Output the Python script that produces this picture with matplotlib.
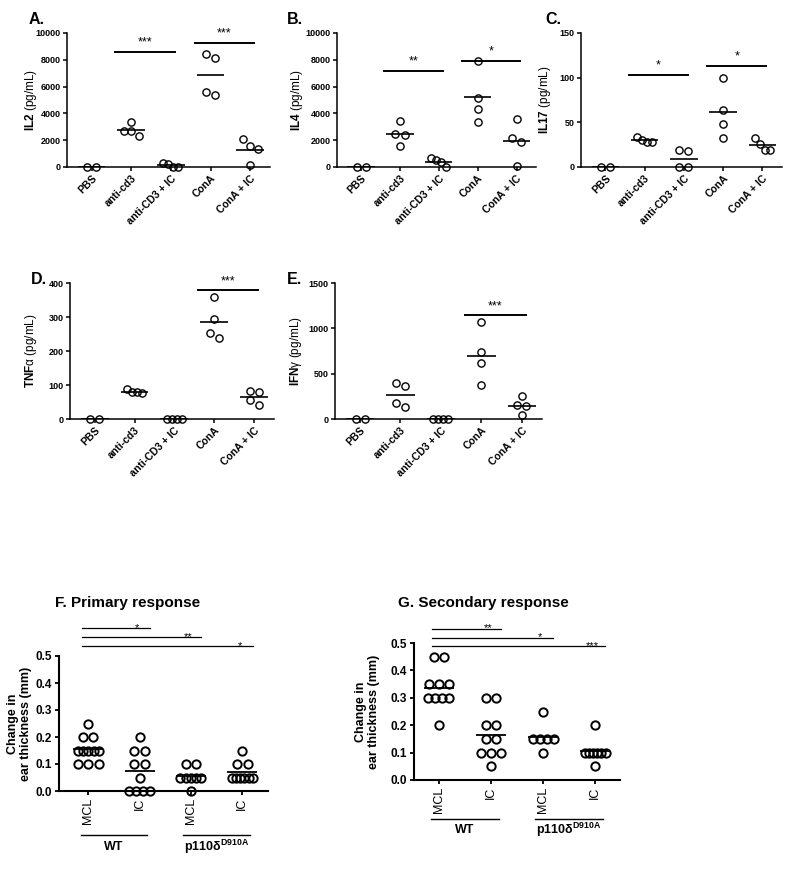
import numpy as np
import matplotlib
matplotlib.use('Agg')
import matplotlib.pyplot as plt

plt.rcParams['font.family'] = ['Liberation Sans', 'DejaVu Sans']
plt.rcParams['mathtext.fontset'] = 'custom'
plt.rcParams['mathtext.rm'] = 'Liberation Sans'
plt.rcParams['mathtext.it'] = 'Liberation Sans:italic'
plt.rcParams['mathtext.bf'] = 'Liberation Sans:bold'

W, H = 800, 873

# Cytokine panels (A-E)
groups = ['PBS', 'anti-cd3', 'anti-CD3 + IC', 'ConA', 'ConA + IC']

il2 = [[0, 0], [2700, 3350, 2650, 2300], [250, 0, 300, 0],
       [8400, 8150, 5350, 5600], [1600, 2100, 1350, 150]]
il4 = [[0, 0], [2500, 3400, 2400, 1600], [500, 0, 650, 400],
       [7900, 5150, 4350, 3350], [3600, 2200, 1900, 100]]
il17 = [[0, 0], [30, 34, 28, 28], [19, 18, 0, 0],
        [100, 64, 48, 33], [26, 33, 19, 19]]
tnfa = [[0, 0], [78, 78, 87, 77], [0, 0, 0, 0],
        [358, 295, 238, 252], [82, 78, 40, 57]]
ifng = [[0, 0], [397, 368, 132, 180], [0, 0, 0, 0],
        [1070, 740, 620, 370], [250, 150, 140, 45]]

# significance bars: (group i, group j, height, stars)
il2_sig = [(1, 2, 8560, '***'), (3, 4, 9260, '***')]
il4_sig = [(1, 2, 7190, '**'), (3, 4, 7890, '*')]
il17_sig = [(1, 2, 103, '*'), (3, 4, 113, '*')]
tnfa_sig = [(3, 4, 378, '***')]
ifng_sig = [(3, 4, 1143, '***')]

# Ear thickness panels (F, G)
ear_labels = ['MCL', 'IC', 'MCL', 'IC']
primary = [[0.25, 0.2, 0.2, 0.15, 0.15, 0.15, 0.15, 0.15, 0.1, 0.1, 0.1],
           [0.2, 0.15, 0.15, 0.1, 0.1, 0.05, 0, 0, 0, 0],
           [0.1, 0.1, 0.05, 0.05, 0.05, 0.05, 0.05, 0],
           [0.15, 0.1, 0.1, 0.05, 0.05, 0.05, 0.05, 0.05, 0.05]]
secondary = [[0.45, 0.45, 0.35, 0.35, 0.35, 0.3, 0.3, 0.3, 0.3, 0.2],
             [0.3, 0.3, 0.2, 0.2, 0.15, 0.15, 0.1, 0.1, 0.1, 0.05],
             [0.25, 0.15, 0.15, 0.15, 0.15, 0.1],
             [0.2, 0.1, 0.1, 0.1, 0.1, 0.1, 0.1, 0.05]]
primary_sig = [(0, 1, 0.602, '*'), (0, 2, 0.569, '**'), (0, 3, 0.537, '*')]
secondary_sig = [(0, 1, 0.552, '**'), (0, 2, 0.519, '*'), (0, 3, 0.488, '***')]
strains = ['WT', r'p110δ$^{\mathbf{D910A}}$']

fig = plt.figure(figsize=(W / 100, H / 100), dpi=100)


def row_offsets(vals, pxu_x, pxu_y, diam, span):
    """Spread points that would overlap into a horizontal row."""
    vals = np.asarray(vals, float)
    order = np.argsort(-vals, kind='stable')
    rows = []
    for idx in order:
        if rows and abs(vals[rows[-1][-1]] - vals[idx]) * pxu_y < diam:
            rows[-1].append(idx)
        else:
            rows.append([idx])
    offs = np.zeros(len(vals))
    for r in rows:
        k = len(r)
        if k == 1:
            continue
        step = min(1.3 * diam, span / (k - 1))
        for n, idx in enumerate(r):
            offs[idx] = (n - (k - 1) / 2) * step / pxu_x
    return offs


def add_axes_px(left, right, top, bottom):
    return fig.add_axes([left / W, 1 - bottom / H, (right - left) / W, (bottom - top) / H])


def cyto_panel(box, letter, letter_xy, data, sig, ymax, ystep, ylab, lab_gap):
    left, right, top, bottom = box
    ax = add_axes_px(left, right, top, bottom)
    xlim = (-0.62, 4.5)
    ax.set_xlim(*xlim)
    ax.set_ylim(0, ymax)
    pxu_x = (right - left) / (xlim[1] - xlim[0])
    pxu_y = (bottom - top) / ymax
    for i, vals in enumerate(data):
        offs = row_offsets(vals, pxu_x, pxu_y, 7, 15)
        ax.plot(i + offs, vals, 'o', ms=5.2, mfc='none', mec='black', mew=1.0,
                clip_on=False, zorder=4)
        ax.hlines(np.mean(vals), i - 0.35, i + 0.35, color='black', lw=1.2, zorder=3)
    for i, j, y, s in sig:
        x0, x1 = i - 0.4, j + 0.1
        ax.plot([x0, x1], [y, y], color='black', lw=1.4, clip_on=False)
        ax.annotate(s, ((x0 + x1) / 2, y), xytext=(0, 4.6), textcoords='offset points',
                    ha='center', va='baseline', fontsize=9, annotation_clip=False)
    ax.set_xticks(range(len(groups)))
    ax.set_xticklabels(groups, rotation=45, ha='right', rotation_mode='anchor',
                       fontweight='bold', fontsize=7.5)
    ax.set_yticks(np.arange(0, ymax + 1e-9, ystep))
    for t in ax.get_yticklabels():
        t.set_fontweight('bold')
        t.set_fontsize(6.5)
    for sp in ['top', 'right']:
        ax.spines[sp].set_visible(False)
    for sp in ['left', 'bottom']:
        ax.spines[sp].set_linewidth(1.1)
    ax.tick_params(direction='out', length=3, width=1.1, pad=1.5)
    ax.set_ylabel(ylab, fontsize=8.5)
    ax.yaxis.set_label_coords(-lab_gap / (right - left), 0.5)
    fig.text(letter_xy[0] / W, 1 - letter_xy[1] / H, letter, fontsize=11.5,
             fontweight='bold', ha='left', va='center')
    return ax


def ear_panel(box, title, title_x, data, sig, xlim, group_lines, lab_gap):
    left, right, top, bottom = box
    ax = add_axes_px(left, right, top, bottom)
    ax.set_xlim(*xlim)
    ax.set_ylim(0, 0.5)
    pxu_x = (right - left) / (xlim[1] - xlim[0])
    pxu_y = (bottom - top) / 0.5
    for i, vals in enumerate(data):
        offs = row_offsets(vals, pxu_x, pxu_y, 8, 21)
        ax.plot(i + offs, vals, 'o', ms=6, mfc='none', mec='black', mew=1.4,
                clip_on=False, zorder=4)
        ax.hlines(np.mean(vals), i - 0.29, i + 0.29, color='black', lw=1.3, zorder=3)
    for i, j, y, s in sig:
        ax.plot([i - 0.13, j + 0.2], [y, y], color='black', lw=0.9, clip_on=False)
        ax.annotate(s, (j - 0.05, y), xytext=(0, -2.0), textcoords='offset points',
                    ha='center', va='baseline', fontsize=8, annotation_clip=False)
    ax.set_xticks(range(len(ear_labels)))
    ax.set_xticklabels(ear_labels, rotation=90, fontsize=9)
    ax.set_yticks(np.arange(0, 0.51, 0.1))
    ax.set_yticklabels(['%.1f' % v for v in np.arange(0, 0.51, 0.1)],
                       fontweight='bold', fontsize=8.5)
    for sp in ['top', 'right']:
        ax.spines[sp].set_visible(False)
    for sp in ['left', 'bottom']:
        ax.spines[sp].set_linewidth(1.5)
    ax.tick_params(direction='out', length=3, width=1.3, pad=2)
    ax.set_ylabel('Change in\near thickness (mm)', fontsize=9, fontweight='bold',
                  linespacing=1.1)
    ax.yaxis.set_label_coords(-lab_gap / (right - left), 0.5)
    trans = ax.get_xaxis_transform()
    line_y, text_y = group_lines
    for k, name in enumerate(strains):
        i, j = 2 * k, 2 * k + 1
        ax.plot([i - 0.15, j + 0.15], [line_y, line_y], color='black', lw=1.0,
                transform=trans, clip_on=False)
        ax.text((i + j) / 2, text_y, name, transform=trans, ha='center', va='center',
                fontsize=9, fontweight='bold')
    fig.text(title_x / W, 1 - 603 / H, title, fontsize=11, fontweight='bold',
             ha='left', va='center')
    return ax


cyto_panel((67, 270, 33, 167), 'A.', (29, 20), il2, il2_sig, 10000, 2000,
           r'$\mathbf{IL2}$ (pg/mL)', 28)
cyto_panel((337, 536, 33, 167), 'B.', (287, 20), il4, il4_sig, 10000, 2000,
           r'$\mathbf{IL4}$ (pg/mL)', 32)
cyto_panel((581, 782, 33, 167), 'C.', (545, 20), il17, il17_sig, 150, 50,
           r'$\mathbf{IL17}$ (pg/mL)', 28)
cyto_panel((70, 274, 283, 419), 'D.', (31, 279), tnfa, tnfa_sig, 400, 100,
           r'$\mathbf{TNF}$α (pg/mL)', 31)
cyto_panel((335, 542, 283, 419), 'E.', (287, 279), ifng, ifng_sig, 1500, 500,
           r'$\mathbf{IFN}$γ (pg/mL)', 31)

ear_panel((59, 268, 656, 791), 'F. Primary response', 55, primary, primary_sig,
          (-0.57, 3.5), (-0.326, -0.415), 27)
ear_panel((414, 620, 643, 780), 'G. Secondary response', 398, secondary, secondary_sig,
          (-0.48, 3.48), (-0.285, -0.365), 34)

fig.savefig('out.png', dpi=100)
